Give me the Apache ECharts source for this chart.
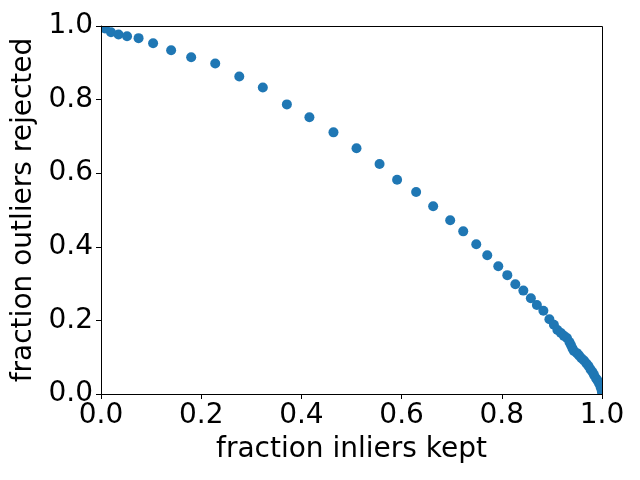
<!DOCTYPE html>
<html>
<head>
<meta charset="utf-8">
<script src="https://cdn.jsdelivr.net/npm/echarts@6/dist/echarts.min.js"></script>
<style>
  html, body { margin: 0; padding: 0; background: #fff; }
  #chart { width: 640px; height: 480px; }
</style>
</head>
<body>
<div id="chart"></div>
<script>
// fraction of inliers kept (x) vs fraction of outliers rejected (y)
const inliersKept = [
  0.0, 0.008, 0.020, 0.035, 0.052, 0.075, 0.104, 0.140, 0.180, 0.228,
  0.276, 0.323, 0.371, 0.416, 0.464, 0.510, 0.556, 0.591, 0.629, 0.663,
  0.697, 0.723, 0.749, 0.771, 0.793, 0.811, 0.827, 0.843, 0.858, 0.870,
  0.883, 0.895, 0.904, 0.911, 0.918, 0.924, 0.930, 0.935, 0.938, 0.941,
  0.944, 0.950, 0.954, 0.959, 0.964, 0.969, 0.973, 0.977, 0.981, 0.984,
  0.988, 0.991, 0.994, 0.997, 0.999, 1.0
]
const outliersRejected = [
  1.0, 0.993, 0.983, 0.977, 0.972, 0.967, 0.953, 0.934, 0.915, 0.898,
  0.863, 0.833, 0.787, 0.752, 0.711, 0.668, 0.625, 0.582, 0.549, 0.510,
  0.472, 0.442, 0.407, 0.377, 0.347, 0.323, 0.298, 0.281, 0.260, 0.242,
  0.226, 0.203, 0.188, 0.174, 0.166, 0.158, 0.152, 0.141, 0.133, 0.124,
  0.117, 0.111, 0.105, 0.097, 0.091, 0.083, 0.076, 0.067, 0.060, 0.052,
  0.043, 0.037, 0.029, 0.020, 0.012, 0.004
]
const tickLabels = ['0.0', '0.2', '0.4', '0.6', '0.8', '1.0']

const font = 'DejaVu Sans'
const points = inliersKept.map((x, i) => [x, outliersRejected[i]])

// plot box, in pixels
const L = 101, R = 38, T = 26, B = 86, W = 640, H = 480

const axisCommon = {
  min: 0,
  max: 1,
  interval: 0.2,
  z: 10,
  nameLocation: 'middle',
  nameTextStyle: { fontFamily: font, fontSize: 28, color: '#000' },
  axisLine: { show: true, lineStyle: { color: '#000', width: 1 } },
  axisTick: { show: true, inside: false, length: 5, lineStyle: { color: '#000' } },
  axisLabel: {
    fontFamily: font, fontSize: 28, color: '#000', margin: 8,
    formatter: v => tickLabels[Math.round(v * 5)]
  },
  splitLine: { show: false }
}

// white masks outside the plot box so edge markers get cut like matplotlib does
const mask = (x, y, w, h) => ({
  type: 'rect', z: 5, silent: true,
  shape: { x, y, width: w, height: h },
  style: { fill: '#fff' }
})

let myChart = echarts.init(document.getElementById('chart'))
myChart.setOption({
  animation: false,
  backgroundColor: '#fff',
  grid: { left: L, right: R, top: T, bottom: B },
  xAxis: Object.assign({}, axisCommon, { type: 'value', name: 'fraction inliers kept', nameGap: 42 }),
  yAxis: Object.assign({}, axisCommon, { type: 'value', name: 'fraction outliers rejected', nameGap: 59 }),
  graphic: [
    mask(0, 0, W, T),
    mask(0, H - B, W, B),
    mask(0, 0, L, H),
    mask(W - R, 0, R, H),
    {
      type: 'rect', z: 6, silent: true,
      shape: { x: L + 0.5, y: T + 0.5, width: W - L - R, height: H - T - B },
      style: { fill: 'none', stroke: '#000', lineWidth: 1 }
    }
  ],
  series: [{
    type: 'scatter',
    data: points,
    symbol: 'circle',
    symbolSize: 10,
    clip: false,
    itemStyle: { color: '#1f77b4', opacity: 1 }
  }]
})
</script>
</body>
</html>
